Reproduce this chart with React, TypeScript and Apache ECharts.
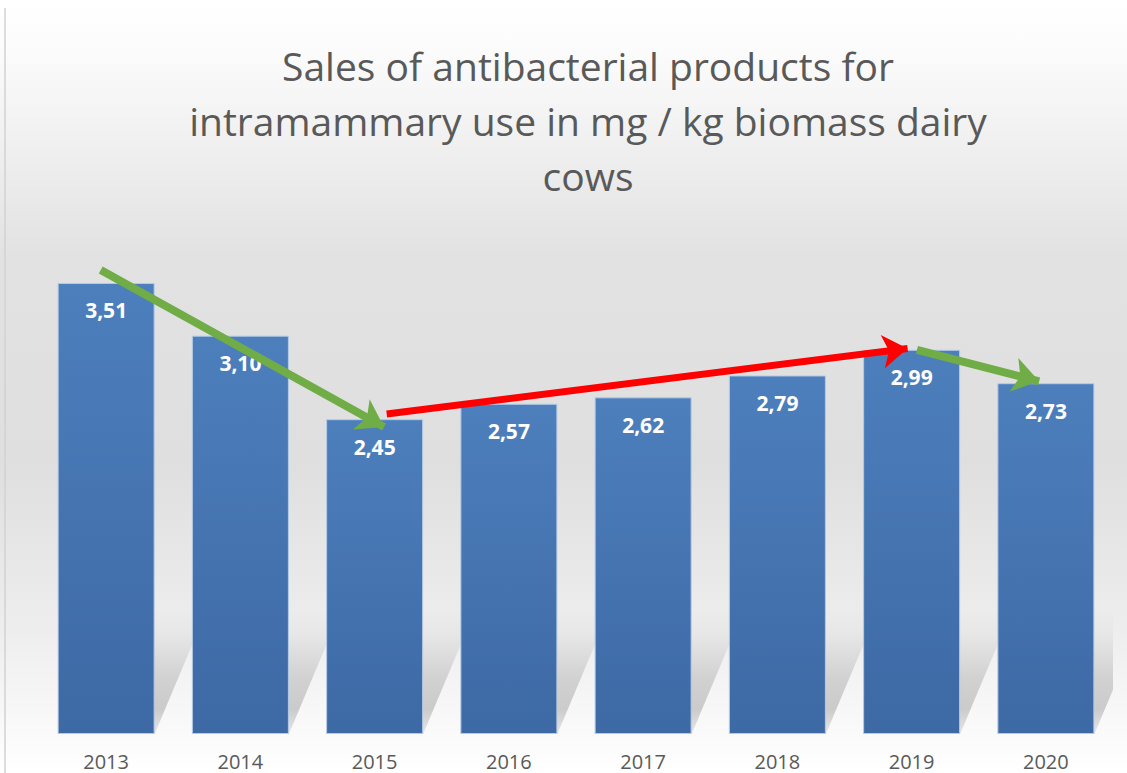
import React, { useEffect, useRef } from "react";
import * as echarts from "echarts";

const years = ["2013", "2014", "2015", "2016", "2017", "2018", "2019", "2020"];
const values = [3.51, 3.1, 2.45, 2.57, 2.62, 2.79, 2.99, 2.73];
const titleLines = [
  "Sales of antibacterial products for",
  "intramammary use in mg / kg biomass dairy",
  "cows",
];
// annotation arrows: [[fromIndex, fromValue], [toIndex, toValue]]
const greenArrows = [
  [[-0.04, 3.61], [2.07, 2.39]],
  [[6.04, 2.99], [6.95, 2.745]],
];
const redArrows = [[[2.09, 2.49], [5.97, 3.0]]];

export default function App() {
  const ref = useRef<HTMLDivElement>(null);
  useEffect(() => {
    if (!ref.current) return;
    const chart = echarts.init(ref.current, undefined, { renderer: "svg" });
    const fmt = (v: number) => v.toFixed(2).replace(".", ",");
    chart.setOption({
      animation: false,
      backgroundColor: {
        type: "linear",
        x: 0,
        y: 0,
        x2: 0,
        y2: 1,
        colorStops: [
          { offset: 0, color: "#ffffff" },
          { offset: 0.06, color: "#fcfcfc" },
          { offset: 0.33, color: "#e2e2e2" },
          { offset: 0.6, color: "#dfdfdf" },
          { offset: 0.82, color: "#eeeeee" },
          { offset: 1, color: "#ffffff" },
        ],
      },
      graphic: [
        {
          type: "line",
          shape: { x1: 5, y1: 8, x2: 5, y2: 773 },
          style: { stroke: "#d2d2d2", lineWidth: 1.5 },
          z: 100,
        },
        {
          type: "text",
          x: 588,
          y: 38,
          style: {
            text: titleLines.join("\n"),
            fontSize: 39,
            lineHeight: 55,
            fontFamily: "Open Sans",
            fill: "#595959",
            textAlign: "center",
            textVerticalAlign: "top",
          },
        },
      ],
      grid: { left: 39, right: 14, top: 220, bottom: 39 },
      xAxis: [
        {
          type: "category",
          data: years,
          axisLine: { show: false },
          axisTick: { show: false },
          axisLabel: {
            color: "#595959",
            fontSize: 20,
            fontFamily: "Open Sans",
            margin: 17,
          },
        },
        { type: "value", min: -0.5, max: 7.5, show: false },
      ],
      yAxis: { type: "value", min: 0, max: 4, show: false },
      series: [
        {
          type: "custom",
          xAxisIndex: 0,
          yAxisIndex: 0,
          clip: true,
          z: 1,
          silent: true,
          data: values.map((v, i) => [i, v]),
          renderItem: (params: any, api: any) => {
            const p = api.coord([api.value(0), 0]);
            const bw = api.size([1, 0])[0] * 0.723;
            const xL = p[0] - bw / 2;
            const xR = p[0] + bw / 2;
            const b = p[1];
            const h = 125;
            const k = 0.42;
            return {
              type: "polygon",
              shape: {
                points: [
                  [xL, b],
                  [xR, b],
                  [xR + k * h, b - h],
                  [xL + k * h, b - h],
                ],
              },
              style: {
                fill: {
                  type: "linear",
                  x: 0,
                  y: 0,
                  x2: 0,
                  y2: 1,
                  colorStops: [
                    { offset: 0, color: "rgba(0,0,0,0)" },
                    { offset: 0.2, color: "rgba(0,0,0,0.03)" },
                    { offset: 0.55, color: "rgba(0,0,0,0.14)" },
                    { offset: 0.8, color: "rgba(0,0,0,0.18)" },
                    { offset: 1, color: "rgba(0,0,0,0.08)" },
                  ],
                },
              },
            };
          },
        },
        {
          type: "bar",
          data: values,
          barWidth: 97,
          z: 2,
          itemStyle: {
            color: {
              type: "linear",
              x: 0,
              y: 0,
              x2: 0,
              y2: 1,
              colorStops: [
                { offset: 0, color: "#4d7fbd" },
                { offset: 1, color: "#3d69a4" },
              ],
            },
            borderColor: "#b4cae6",
            borderWidth: 1,
          },
          label: {
            show: true,
            position: "insideTop",
            distance: 17,
            color: "#ffffff",
            fontWeight: "bold",
            fontSize: 21,
            fontFamily: "Open Sans",
            formatter: (p: any) => fmt(p.value),
          },
        },
        {
          type: "lines",
          coordinateSystem: "cartesian2d",
          xAxisIndex: 1,
          yAxisIndex: 0,
          z: 5,
          symbol: ["none", "arrow"],
          symbolSize: 26,
          lineStyle: { color: "#70ad47", width: 8, opacity: 1, curveness: 0 },
          data: greenArrows.map((c) => ({ coords: c })),
        },
        {
          type: "lines",
          coordinateSystem: "cartesian2d",
          xAxisIndex: 1,
          yAxisIndex: 0,
          z: 5,
          symbol: ["none", "arrow"],
          symbolSize: 25,
          lineStyle: { color: "#ff0000", width: 7, opacity: 1, curveness: 0 },
          data: redArrows.map((c) => ({ coords: c })),
        },
      ],
    });
    return () => chart.dispose();
  }, []);
  return (
    <div
      ref={ref}
      style={{ position: "fixed", left: 0, top: 0, width: 1127, height: 773 }}
    />
  );
}
